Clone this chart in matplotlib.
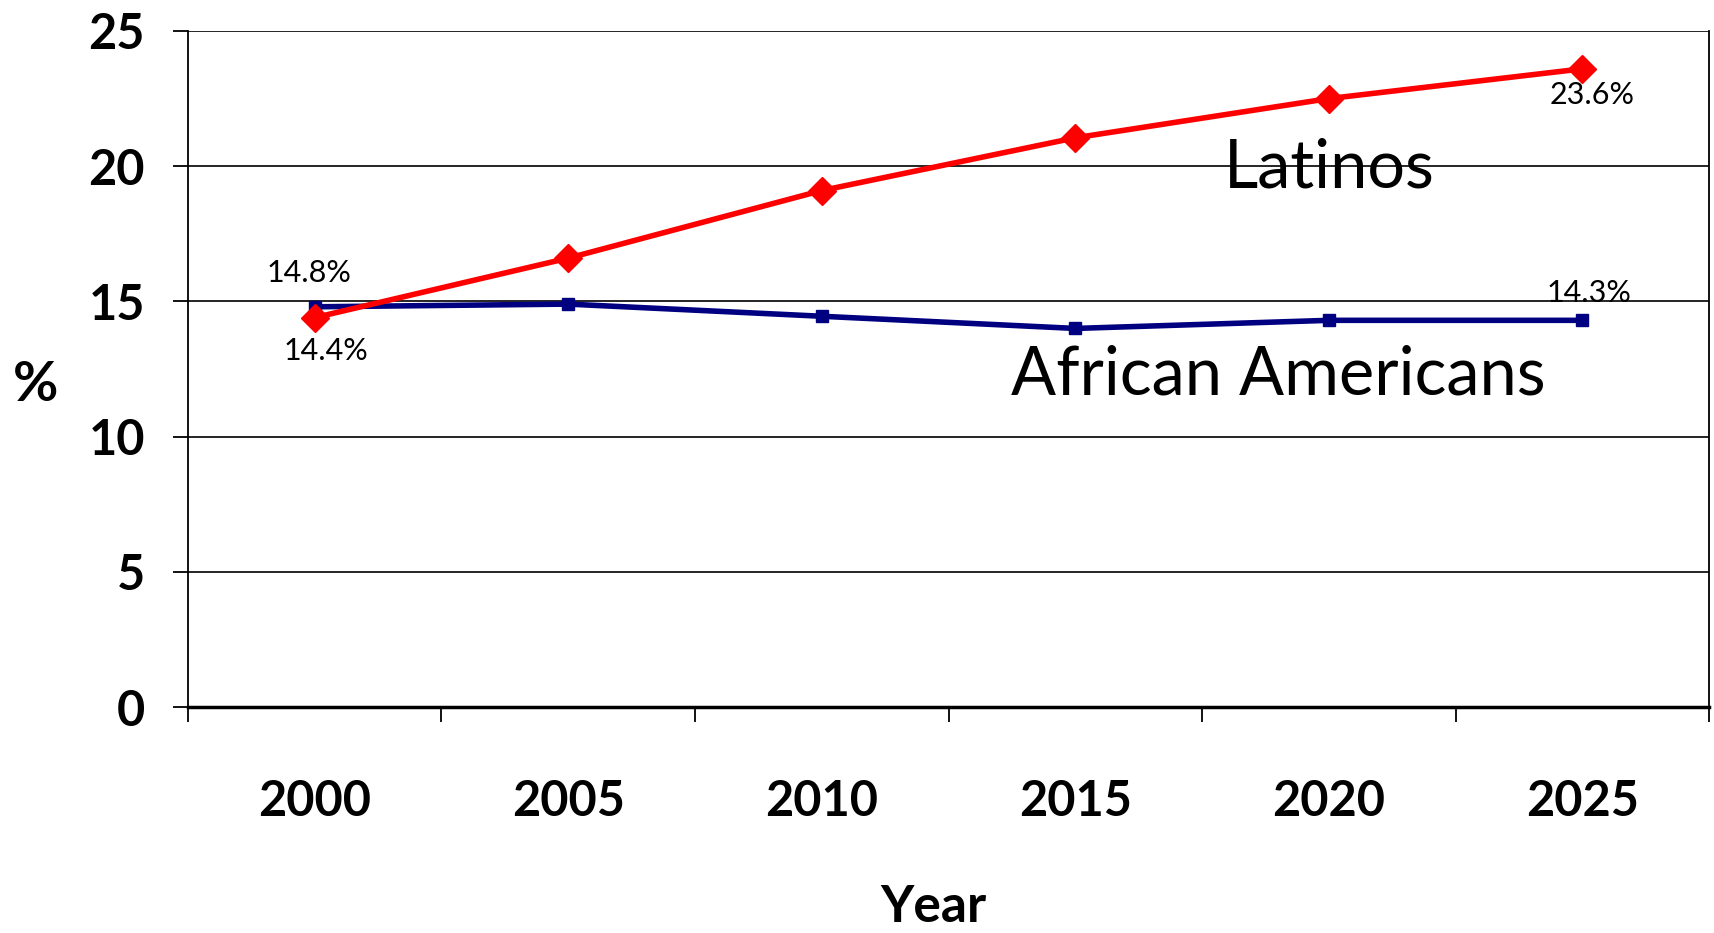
import matplotlib
matplotlib.use("Agg")
import matplotlib.pyplot as plt

years = ["2000", "2005", "2010", "2015", "2020", "2025"]
latinos = [14.4, 16.6, 19.1, 21.05, 22.5, 23.6]
african_americans = [14.8, 14.9, 14.45, 14.0, 14.3, 14.3]
y_ticks = [0, 5, 10, 15, 20, 25]

plt.rcParams['font.family'] = ['Lato', 'DejaVu Sans']

fig = plt.figure(figsize=(17.15, 9.33), dpi=100)
ax = fig.add_axes([0.1096, 0.2422, 0.887, 0.7246])

x = list(range(len(years)))
ax.plot(x, latinos, color='#FF0000', lw=4, marker='D', ms=14, zorder=4)
ax.plot(x, african_americans, color='#000080', lw=4, marker='s', ms=8, zorder=3)

ax.set_xlim(-0.5, len(years) - 0.5)
ax.set_ylim(0, 25)

# major ticks on category boundaries, labels at centers
ax.set_xticks([i - 0.5 for i in range(len(years) + 1)])
ax.set_xticklabels([])
ax.set_xticks(x, minor=True)
ax.set_xticklabels(years, minor=True, fontsize=35, fontweight='bold')
ax.tick_params(axis='x', which='major', length=11, width=1.3, direction='out')
ax.tick_params(axis='x', which='minor', length=0, pad=52)

ax.set_yticks(y_ticks)
ax.set_yticklabels([str(v) for v in y_ticks], fontsize=35, fontweight='bold')
ax.tick_params(axis='y', length=11, width=1.3, pad=20)

ax.grid(axis='y', color='black', lw=1.2)
ax.set_axisbelow(True)
ax.spines['top'].set_visible(False)
ax.spines['left'].set_linewidth(1.3)
ax.spines['right'].set_linewidth(1.3)
ax.spines['bottom'].set_linewidth(2.5)

ax.set_xlabel("Year", fontsize=37, fontweight='bold')
ax.xaxis.set_label_coords(0.49, -0.262)
ax.set_ylabel("%", fontsize=40, fontweight='bold', rotation=0)
ax.yaxis.set_label_coords(-0.1, 0.44)

# data labels
ax.annotate("14.8%", (0, african_americans[0]), xytext=(-4, 24), textcoords='offset points',
            ha='center', va='center', fontsize=22)
ax.annotate("14.4%", (0, latinos[0]), xytext=(8, -24), textcoords='offset points',
            ha='center', va='center', fontsize=22)
ax.annotate("23.6%", (5, latinos[5]), xytext=(7, -19), textcoords='offset points',
            ha='center', va='center', fontsize=22)
ax.annotate("14.3%", (5, african_americans[5]), xytext=(5, 20), textcoords='offset points',
            ha='center', va='center', fontsize=22)

ax.text(4.0, 19.9, "Latinos", fontsize=48, ha='center', va='center')
ax.text(3.8, 12.25, "African Americans", fontsize=48, ha='center', va='center')

fig.savefig("out.png", dpi=100, facecolor='white')
